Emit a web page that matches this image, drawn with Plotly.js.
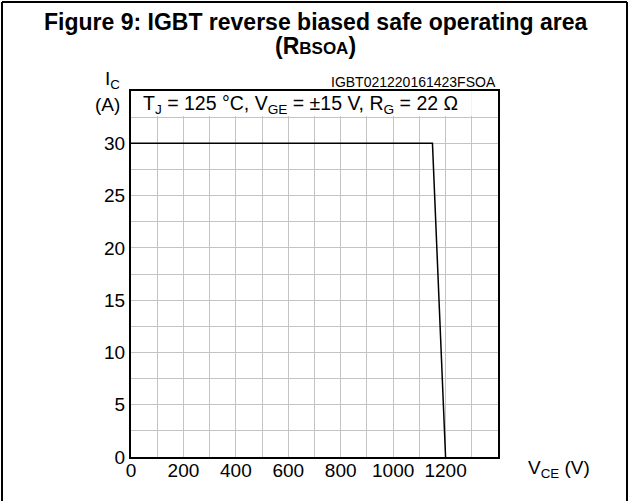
<!DOCTYPE html>
<html>
<head>
<meta charset="utf-8">
<script src="https://cdn.plot.ly/plotly-3.0.1.min.js"></script>
<style>html,body{margin:0;padding:0;background:#fff;}#chart{width:629px;height:501px;}</style>
</head>
<body>
<div id="chart"></div>
<script>
// Data
var vce = [0, 1150, 1200];
var ic = [30, 30, 0];
var xTickVals = [0, 200, 400, 600, 800, 1000, 1200];
var yTickVals = [0, 5, 10, 15, 20, 25, 30];

var FONT = 'Liberation Sans, Arial, sans-serif';
var L = 131, R = 131, T = 91, B = 44, W = 629, H = 501;
var pw = W - L - R, ph = H - T - B;
function px(x){ return (x - L) / pw; }
function py(y){ return (H - B - y) / ph; }

var trace = {
  x: vce, y: ic, type: 'scatter', mode: 'lines',
  line: {color: '#000', width: 1.5}, hoverinfo: 'skip', showlegend: false
};

var layout = {
  width: W, height: H,
  margin: {l: L, r: R, t: T, b: B},
  paper_bgcolor: '#fff', plot_bgcolor: '#fff',
  font: {family: FONT, size: 19, color: '#000'},
  xaxis: {
    range: [0, 1400], tickvals: xTickVals, ticks: '', showgrid: true,
    gridcolor: '#c4c4c4', gridwidth: 1,
    minor: {dtick: 100, showgrid: true, gridcolor: '#c4c4c4', gridwidth: 1},
    showline: true, linecolor: '#000', linewidth: 2, mirror: true, ticklabelstandoff: -5,
    zeroline: false, tickfont: {family: FONT, size: 19, color: '#000'}, fixedrange: true
  },
  yaxis: {
    range: [0, 35], tickvals: yTickVals, ticks: '', showgrid: true,
    gridcolor: '#c4c4c4', gridwidth: 1,
    minor: {dtick: 2.5, showgrid: true, gridcolor: '#c4c4c4', gridwidth: 1},
    showline: true, linecolor: '#000', linewidth: 2, mirror: true,
    zeroline: false, tickfont: {family: FONT, size: 19, color: '#000'}, fixedrange: true
  },
  shapes: [
    {type: 'rect', xref: 'x', yref: 'y', x0: 0, x1: 1300, y0: 32.6, y1: 35,
     fillcolor: '#fff', line: {width: 0}, layer: 'between'},
    {type: 'line', xref: 'paper', yref: 'paper', x0: px(2), x1: px(627), y0: py(2), y1: py(2), line: {color: '#000', width: 2}},
    {type: 'line', xref: 'paper', yref: 'paper', x0: px(2), x1: px(2), y0: py(2), y1: py(501), line: {color: '#000', width: 2}},
    {type: 'line', xref: 'paper', yref: 'paper', x0: px(627), x1: px(627), y0: py(2), y1: py(501), line: {color: '#000', width: 2}}
  ],
  annotations: [
    {text: '<b>Figure 9: IGBT reverse biased safe operating area</b>', xref: 'paper', yref: 'paper',
     x: px(315), y: py(22), xanchor: 'center', yanchor: 'middle', showarrow: false,
     font: {family: FONT, size: 23, color: '#000'}},
    {text: '<b>(R<span style="font-size:17px">BSOA</span>)</b>', xref: 'paper', yref: 'paper',
     x: px(315), y: py(46), xanchor: 'center', yanchor: 'middle', showarrow: false,
     font: {family: FONT, size: 23, color: '#000'}},
    {text: 'T<sub>J</sub> = 125 °C, V<sub>GE</sub> = ±15 V, R<sub>G</sub> = 22 Ω', xref: 'x', yref: 'y',
     x: 40, y: 33.75, xanchor: 'left', yanchor: 'middle', showarrow: false,
     font: {family: FONT, size: 19.5, color: '#000'}},
    {text: 'IGBT021220161423FSOA', xref: 'paper', yref: 'paper', x: 1, y: 1, xanchor: 'right', yanchor: 'bottom',
     showarrow: false, font: {family: FONT, size: 14, color: '#000'}, yshift: -1},
    {text: 'I<sub>C</sub>', xref: 'paper', yref: 'paper', x: px(112), y: py(80), xanchor: 'center', yanchor: 'middle',
     showarrow: false, font: {family: FONT, size: 19, color: '#000'}},
    {text: '(A)', xref: 'paper', yref: 'paper', x: px(107), y: py(104), xanchor: 'center', yanchor: 'middle',
     showarrow: false, font: {family: FONT, size: 19, color: '#000'}},
    {text: 'V<sub>CE</sub> (V)', xref: 'paper', yref: 'paper', x: px(559), y: py(469), xanchor: 'center', yanchor: 'middle',
     showarrow: false, font: {family: FONT, size: 19, color: '#000'}}
  ]
};

Plotly.newPlot('chart', [trace], layout, {displayModeBar: false, staticPlot: true});
</script>
</body>
</html>
